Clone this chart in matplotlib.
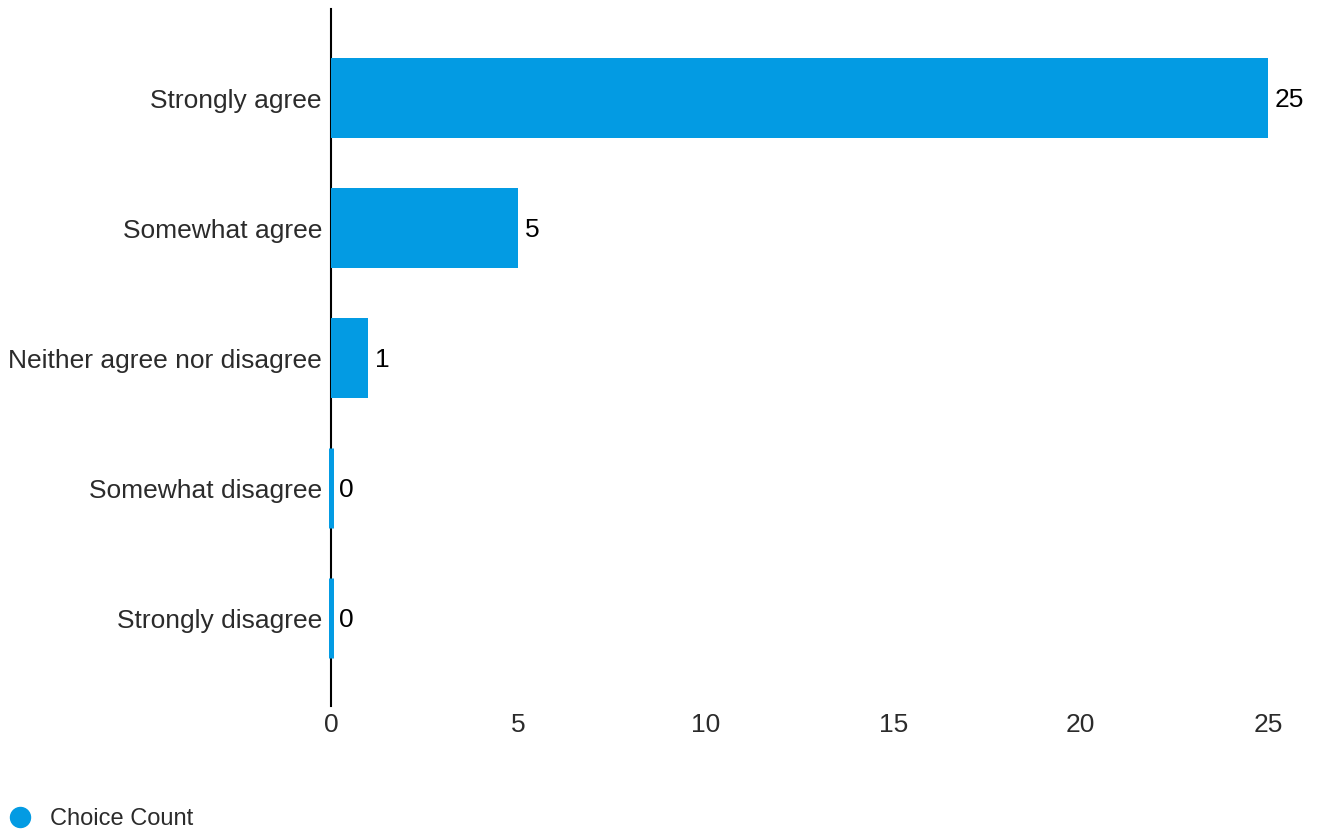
import matplotlib
matplotlib.use("Agg")
import matplotlib.pyplot as plt
from matplotlib.lines import Line2D

plt.rcParams['font.family'] = ['Liberation Sans', 'DejaVu Sans']

categories = ["Strongly agree", "Somewhat agree", "Neither agree nor disagree",
              "Somewhat disagree", "Strongly disagree"]
counts = [25, 5, 1, 0, 0]
x_ticks = [0, 5, 10, 15, 20, 25]
series_name = "Choice Count"

bar_color = "#039be3"
label_size = 19

fig = plt.figure(figsize=(13.18, 8.34), dpi=100)
ax = fig.add_axes([331 / 1318, 128 / 834, 937 / 1318, 697 / 834])

ypos = list(range(len(categories)))
# zero-valued answers still get a thin visible stub via the bar edge
edge_widths = [0 if v > 0 else 3.6 for v in counts]
bars = ax.barh(ypos, counts, height=0.615, color=bar_color, edgecolor=bar_color,
               linewidth=edge_widths, zorder=3)
for b in bars:
    b.set_clip_on(False)

for y, v in zip(ypos, counts):
    ax.annotate(str(v), xy=(v, y), xytext=(5.5 if v == 0 else 4.5, -1.5),
                textcoords="offset points", ha="left", va="center",
                fontsize=label_size, color="black", zorder=4)

ax.set_xlim(0, 25)
ax.set_ylim(4.675, -0.685)
ax.set_xticks(x_ticks)
ax.set_xticklabels([str(t) for t in x_ticks])
ax.set_yticks(ypos)
ax.set_yticklabels(categories)

ax.tick_params(axis="x", length=0, pad=5, labelsize=label_size, colors="#2b2b2b")
ax.tick_params(axis="y", length=0, pad=6.5, labelsize=label_size, colors="#2b2b2b")

for side in ("top", "right", "bottom"):
    ax.spines[side].set_visible(False)
ax.spines["left"].set_color("black")
ax.spines["left"].set_linewidth(1.5)
ax.spines["left"].set_zorder(2)

handle = Line2D([], [], marker="o", linestyle="none", markersize=14.4,
                markerfacecolor=bar_color, markeredgecolor=bar_color)
fig.legend([handle], [series_name], loc="center left",
           bbox_to_anchor=(8 / 1318, 15 / 834), frameon=False, fontsize=17,
           handlelength=1.0, handletextpad=0.78, borderpad=0, borderaxespad=0,
           labelcolor="#2b2b2b")

fig.savefig("out.png", dpi=100)
